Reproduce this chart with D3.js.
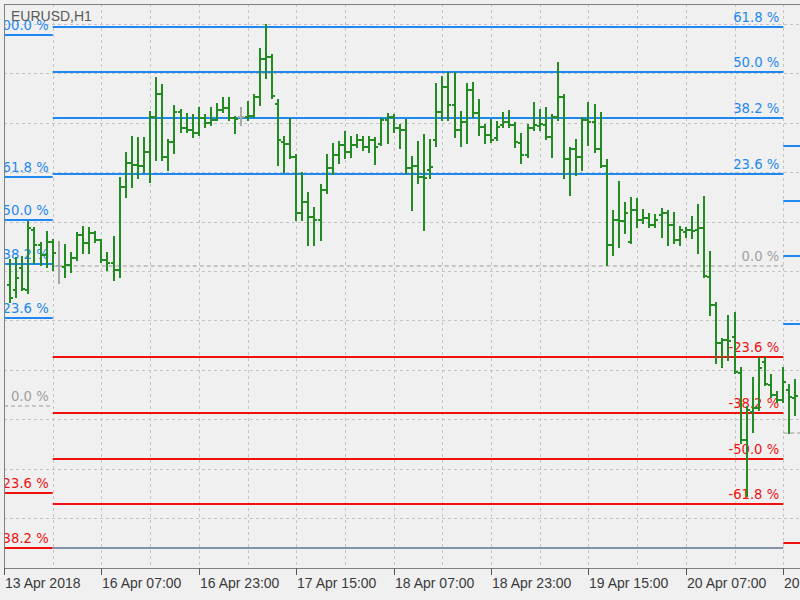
<!DOCTYPE html>
<html><head><meta charset="utf-8">
<script src="https://cdn.jsdelivr.net/npm/d3@7"></script>
<style>html,body{margin:0;padding:0;background:#f0f0f0;}svg{display:block;}</style>
</head><body>
<svg id="chart" width="800" height="600"></svg>
<script>
// ---- data (prices in points, 1 point = 0.00001) ----
const symbol = "EURUSD,H1";
const opens = [
123572,123562,123606,123562,123683,123653,123633,123659,123611,123609,
123613,123627,123673,123657,123677,123663,123623,123617,123602,123770,
123819,123815,123813,123841,123912,123959,123831,123862,123922,123890,
123886,123880,123910,123900,123906,123926,123930,123910,123912,123912,
123914,123953,124030,124034,123938,123862,123858,123831,123718,123740,
123710,123704,123764,123809,123835,123855,123841,123855,123866,123851,
123866,123858,123906,123912,123890,123886,123809,123813,123791,123805,
123866,123922,123973,123936,123886,123902,123967,123920,123892,123876,
123870,123896,123902,123896,123860,123835,123890,123894,123896,123872,
123912,123953,123827,123847,123831,123906,123902,123847,123813,123653,
123704,123702,123659,123724,123704,123708,123694,123714,123718,123694,
123663,123679,123683,123683,123687,123588,123532,123455,123461,123467,
123394,123258,123315,123323,123416,123370,123349,123339,123360,123343];
const highs = [
123623,123627,123629,123700,123687,123657,123679,123663,123659,123653,
123637,123677,123689,123687,123679,123663,123637,123669,123789,123839,
123872,123870,123870,123922,123991,123977,123866,123934,123926,123918,
123916,123930,123916,123930,123938,123951,123951,123912,123930,123943,
123957,124050,124098,124038,123947,123872,123908,123835,123799,123758,
123728,123775,123835,123858,123862,123882,123872,123876,123872,123872,
123870,123908,123918,123916,123896,123906,123831,123862,123876,123866,
123979,123993,124001,124001,123922,123979,123981,123947,123896,123906,
123902,123920,123924,123900,123878,123896,123940,123926,123930,123916,
124021,123957,123849,123866,123910,123940,123936,123920,123825,123722,
123781,123738,123748,123746,123724,123716,123714,123726,123722,123718,
123689,123687,123710,123734,123750,123639,123536,123463,123509,123515,
123404,123325,123384,123424,123424,123390,123355,123404,123370,123380];
const lows = [
123538,123548,123562,123556,123617,123613,123609,123602,123576,123588,
123598,123623,123637,123637,123659,123619,123602,123582,123588,123750,
123770,123789,123801,123781,123825,123825,123805,123839,123882,123882,
123872,123876,123892,123896,123906,123922,123906,123880,123896,123906,
123912,123936,123991,123951,123815,123801,123829,123704,123704,123653,
123653,123663,123758,123797,123819,123829,123831,123851,123845,123841,
123817,123855,123860,123882,123849,123799,123724,123779,123683,123789,
123853,123906,123906,123872,123853,123860,123912,123876,123860,123862,
123866,123892,123892,123851,123819,123831,123886,123886,123868,123831,
123906,123789,123754,123795,123805,123855,123841,123811,123613,123633,
123649,123677,123657,123689,123698,123689,123689,123669,123653,123657,
123653,123669,123667,123637,123588,123511,123414,123406,123420,123394,
123252,123145,123275,123319,123370,123345,123335,123335,123272,123309];
const closes = [
123546,123586,123564,123687,123653,123633,123659,123637,123611,123613,
123627,123673,123657,123677,123663,123623,123617,123602,123770,123819,
123815,123813,123841,123912,123959,123831,123862,123922,123890,123886,
123880,123910,123900,123906,123926,123930,123910,123908,123912,123914,
123953,124030,124034,123955,123866,123858,123831,123718,123740,123710,
123704,123764,123809,123835,123855,123841,123855,123866,123851,123866,
123851,123906,123912,123890,123886,123809,123813,123791,123789,123811,
123922,123973,123936,123886,123902,123967,123920,123892,123876,123866,
123892,123902,123896,123862,123835,123890,123896,123898,123872,123912,
123953,123827,123847,123831,123906,123902,123847,123813,123653,123704,
123702,123718,123724,123704,123708,123694,123704,123718,123694,123663,
123683,123683,123681,123687,123590,123532,123455,123461,123459,123396,
123258,123319,123323,123404,123372,123349,123339,123376,123345,123347];

const timeTickIndex = [0,16,32,48,64,80,96,112,128];
const timeTickLabels = ["13 Apr 2018","16 Apr 07:00","16 Apr 23:00","17 Apr 15:00","18 Apr 07:00",
                        "18 Apr 23:00","19 Apr 15:00","20 Apr 07:00","20 Apr 23:00"];
const priceGrid = [123100,123200,123300,123400,123500,123600,123700,123800,123900,124000,124100];

const fibLevels = [100, 61.8, 50, 38.2, 23.6, 0, -23.6, -38.2, -50, -61.8];
const fibFrom  = [0, 8, 128];
const fibTo    = [8, 128, 140];
const fibZero  = [123327, 123611, 123272];
const fibFull  = [124078, 124393, 124211];
const priceLine = 123040;

// ---- drawing ----
(function draw() {
const svg = d3.select("#chart");
const W = 800, H = 600;
const pL = 4, pT = 4, pB = 568;
const x = d3.scaleLinear().domain([0, 130]).range([4, 795.44]);
const y = d3.scaleLinear().domain([123000, 124100]).range([567.4, 24]);

svg.append("rect").attr("width", W).attr("height", H).attr("fill", "#f0f0f0");
svg.append("defs").append("clipPath").attr("id", "plot")
  .append("rect").attr("x", pL + 1).attr("y", pT + 1).attr("width", W - pL).attr("height", pB - pT - 1);

const g = svg.append("g").attr("clip-path", "url(#plot)");

// grid
const vGrid = d3.range(8, 136, 8);
g.selectAll("line.vg").data(vGrid).join("line")
  .attr("x1", d => Math.round(x(d)) + 0.5).attr("x2", d => Math.round(x(d)) + 0.5)
  .attr("y1", pT).attr("y2", pB)
  .attr("stroke", "#c4c4c4").attr("stroke-dasharray", "3,3");
g.selectAll("line.hg").data(priceGrid).join("line")
  .attr("x1", pL).attr("x2", W)
  .attr("y1", d => Math.round(y(d)) + 0.5).attr("y2", d => Math.round(y(d)) + 0.5)
  .attr("stroke", "#c4c4c4").attr("stroke-dasharray", "3,3");

// fib sets
fibFrom.forEach((from, s) => {
  const range = fibFull[s] - fibZero[s];
  const xa = x(from), xb = x(fibTo[s]);
  fibLevels.forEach(lv => {
    const p = fibZero[s] + range * lv / 100;
    const yy = Math.round(y(p));
    if (yy < pT || yy > pB) return;
    const col = lv > 0 ? "#1e88f0" : (lv < 0 ? "#f01010" : "#9a9a9a");
    g.append("line").attr("x1", xa).attr("x2", xb).attr("y1", yy).attr("y2", yy)
      .attr("stroke", col).attr("stroke-width", lv === 0 ? 1.2 : 1.8)
      .attr("stroke-dasharray", lv === 0 ? "4,3" : null);
    if (xb - 4 > W) return;
    g.append("text").attr("x", xb - 4).attr("y", yy - 5)
      .attr("text-anchor", "end").attr("fill", lv > 0 ? "#1e88f0" : (lv < 0 ? "#f01010" : "#a0a0a0"))
      .attr("font-family", "DejaVu Sans").attr("font-size", "13.2px")
      .text(lv.toFixed(1) + " %");
  });
});

// horizontal price line
g.append("line").attr("x1", x(8)).attr("x2", x(128))
  .attr("y1", Math.round(y(priceLine))).attr("y2", Math.round(y(priceLine)))
  .attr("stroke", "#8494a6").attr("stroke-width", 1.8);

// OHLC bars
const bars = opens.map((o, k) => ({i: k + 1, o, h: highs[k], l: lows[k], c: closes[k]}));
g.selectAll("path.bar").data(bars).join("path")
  .attr("d", d => {
    const cx = Math.round(x(d.i));
    const yh = Math.round(y(d.h)), yl = Math.round(y(d.l));
    const yo = Math.round(y(d.o)), yc = Math.round(y(d.c));
    return `M${cx},${yh - 1}V${yl + 1}M${cx - 3},${yo}H${cx}M${cx},${yc}H${cx + 3}`;
  })
  .attr("fill", "none")
  .attr("stroke", d => d.o === d.c ? "#a8a8a8" : "#228b22")
  .attr("stroke-width", 2);

// frame
svg.append("line").attr("x1", pL + 0.5).attr("x2", pL + 0.5).attr("y1", pT).attr("y2", pB + 6).attr("stroke", "#808080");
svg.append("line").attr("x1", pL).attr("x2", W).attr("y1", pT + 0.5).attr("y2", pT + 0.5).attr("stroke", "#808080");
svg.append("line").attr("x1", pL).attr("x2", W).attr("y1", pB + 0.5).attr("y2", pB + 0.5).attr("stroke", "#808080");

// time axis
const ax = svg.append("g");
timeTickIndex.forEach((ti, k) => {
  const tx = Math.round(x(ti)) + 0.5;
  ax.append("line").attr("x1", tx).attr("x2", tx).attr("y1", pB).attr("y2", pB + 7).attr("stroke", "#555");
  ax.append("text").attr("x", tx + 0.5).attr("y", 588)
    .attr("font-family", "Liberation Sans").attr("font-size", "14px").attr("fill", "#3a3a3a")
    .text(timeTickLabels[k]);
});

// title
svg.append("text").attr("x", 11).attr("y", 21)
  .attr("font-family", "Liberation Sans").attr("font-size", "14px").attr("fill", "#5a5a5a")
  .text(symbol);
})();
</script>
</body></html>
